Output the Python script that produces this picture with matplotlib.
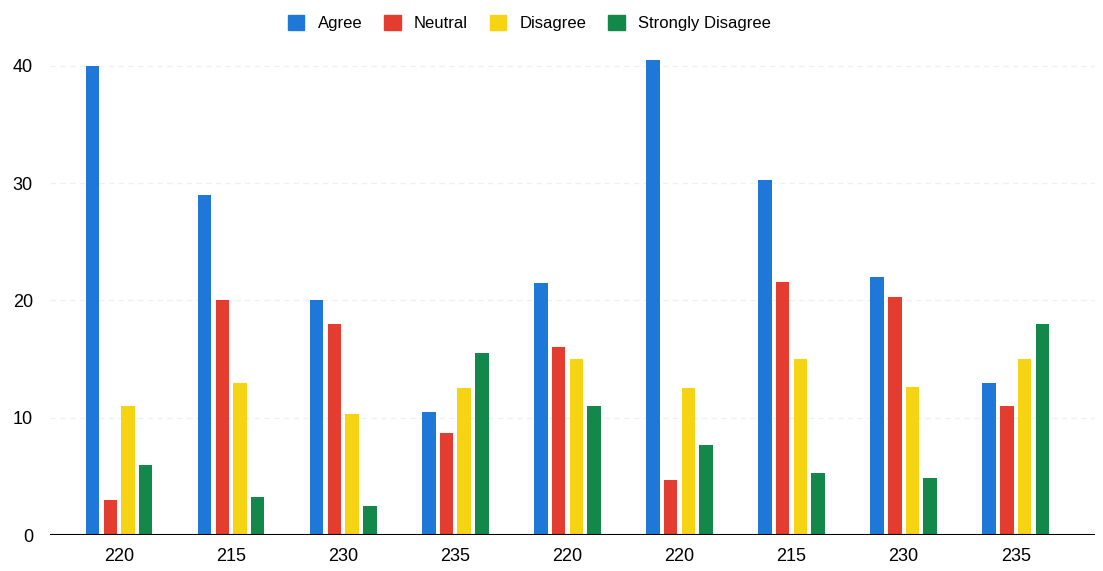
import numpy as np
import matplotlib.pyplot as plt
from matplotlib.patches import Patch

groups = ['220', '215', '230', '235', '220', '220', '215', '230', '235']
series = ['Agree', 'Neutral', 'Disagree', 'Strongly Disagree']
agree = [40, 29, 20, 10.5, 21.5, 40.5, 30.3, 22, 13]
neutral = [3, 20, 18, 8.7, 16, 4.7, 21.6, 20.3, 11]
disagree = [11, 13, 10.3, 12.5, 15, 12.5, 15, 12.6, 15]
strongly = [6, 3.2, 2.5, 15.5, 11, 7.7, 5.3, 4.9, 18]
yticks = [0, 10, 20, 30, 40]

colors = ['#1f78d8', '#e53c30', '#f7d413', '#12894a']


def main():
    plt.rcParams['font.family'] = ['Liberation Sans', 'DejaVu Sans']
    fig = plt.figure(figsize=(11.03, 5.71), dpi=100)
    ax = fig.add_axes([0.045, 0.063, 0.948, 0.867])

    x = np.arange(len(groups))
    w = 0.12
    step = 0.158
    for k, vals in enumerate([agree, neutral, disagree, strongly]):
        ax.bar(x + (k - 1.5) * step, vals, width=w, color=colors[k], zorder=2)

    ax.set_xlim(-0.62, 8.71)
    ax.set_ylim(0, 42.2)
    ax.set_xticks(x)
    ax.set_xticklabels(groups, fontsize=13)
    ax.set_yticks(yticks)
    ax.set_yticklabels([str(t) for t in yticks], fontsize=13)
    ax.tick_params(axis='x', length=0, pad=9)
    ax.tick_params(axis='y', length=0, pad=12)
    for s in ax.spines.values():
        s.set_visible(False)
    ax.axhline(0, color='black', lw=1.5, zorder=3)
    ax.yaxis.grid(True, color='#f0f0f0', lw=1, ls=(0, (4, 3)), zorder=0)

    handles = [Patch(color=c, label=s) for c, s in zip(colors, series)]
    fig.legend(handles=handles, loc='upper center', bbox_to_anchor=(0.48, 1.0),
               ncol=4, frameon=False, fontsize=12, handlelength=1.0,
               handleheight=1.0, columnspacing=1.3, handletextpad=0.8)

    fig.savefig('out.png', dpi=100)


if __name__ == '__main__':
    main()
